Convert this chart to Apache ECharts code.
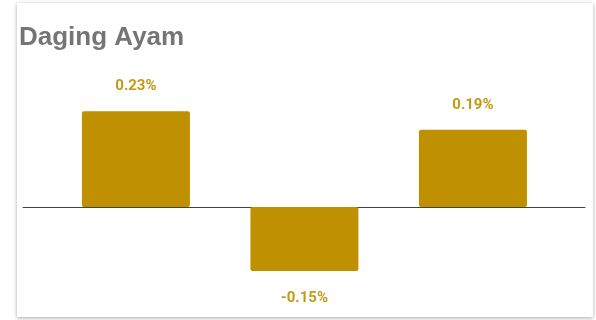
<!DOCTYPE html>
<html>
<head>
<meta charset="utf-8">
<script src="https://cdn.jsdelivr.net/npm/echarts@6/dist/echarts.min.js"></script>
<style>
    html, body { margin: 0; padding: 0; background: #fff; }
    #card {
        position: absolute; left: 17px; top: 3px; width: 576px; height: 314px;
        background: #fff; box-shadow: 0 1px 4px rgba(0, 0, 0, 0.35);
    }
    #chart { position: absolute; left: 0; top: 0; width: 596px; height: 320px; }
</style>
</head>
<body>
<div id="card"></div>
<div id="chart"></div>
<script>
var title = 'Daging Ayam';
var categories = ['1', '2', '3'];
var values = [0.231, -0.154, 0.186];
var barColor = '#bf9000';

var data = values.map(function (v, i) {
    return {
        value: [i, v],
        label: {
            position: v < 0 ? 'bottom' : 'top',
            distance: v < 0 ? 20 : 17
        }
    };
});

var myChart = echarts.init(document.getElementById('chart'));

option = {
    backgroundColor: 'transparent',
    animation: false,
    title: {
        text: title,
        left: 19,
        top: 25,
        padding: 0,
        textStyle: {
            color: '#757575',
            fontFamily: 'Liberation Sans, Arial, sans-serif',
            fontWeight: 'bold',
            fontSize: 26
        }
    },
    grid: {
        left: 23,
        right: 11,
        top: 82.5,
        bottom: 9.25
    },
    xAxis: {
        type: 'value',
        min: -0.67,
        max: categories.length - 1 + 0.665,
        axisLine: {
            show: true,
            onZero: true,
            lineStyle: { color: '#444', width: 1 }
        },
        axisTick: { show: false },
        axisLabel: { show: false },
        splitLine: { show: false }
    },
    yAxis: {
        type: 'value',
        min: -0.25,
        max: 0.3,
        show: false,
        splitLine: { show: false }
    },
    series: [{
        type: 'bar',
        barWidth: 108,
        data: data,
        itemStyle: {
            color: barColor,
            borderRadius: 2
        },
        label: {
            show: true,
            color: '#c49a14',
            fontFamily: 'Roboto, sans-serif',
            fontWeight: 'bold',
            fontSize: 15,
            formatter: function (p) {
                return p.value[1].toFixed(2) + '%';
            }
        }
    }]
};
myChart.setOption(option);
</script>
</body>
</html>
